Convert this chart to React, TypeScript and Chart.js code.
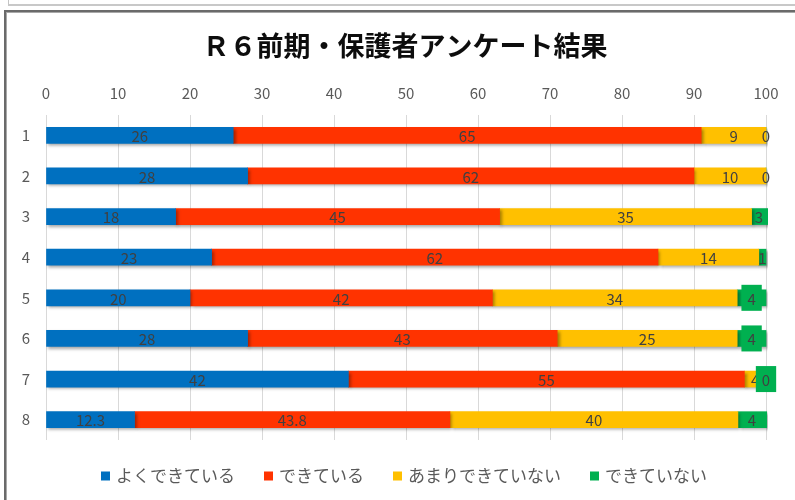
import React, { useEffect, useRef } from "react";
import { Chart, registerables } from "chart.js";

Chart.register(...registerables);

const titleText = "Ｒ６前期・保護者アンケート結果";
const categories = ["1", "2", "3", "4", "5", "6", "7", "8"];
const seriesNames = ["よくできている", "できている", "あまりできていない", "できていない"];
const veryWell = [26, 28, 18, 23, 20, 28, 42, 12.3];
const well = [65, 62, 45, 62, 42, 43, 55, 43.8];
const notMuch = [9, 10, 35, 14, 34, 25, 4, 40];
const notAtAll = [0, 0, 3, 1, 4, 4, 0, 4];
const xTickValues = [0, 10, 20, 30, 40, 50, 60, 70, 80, 90, 100];

const seriesColors = ["#0070C0", "#FF3300", "#FFC000", "#00B050"];
// rows (0-based) whose last-series label has a filled box
const boxedLabelRows = [4, 5, 6];

const FONT = "'Noto Sans CJK JP', 'Noto Sans', sans-serif";

const shadowPlugin = {
  id: "barShadow",
  beforeDatasetDraw(chart: any) {
    const ctx = chart.ctx;
    ctx.save();
    ctx.shadowColor = "rgba(0,0,0,0.35)";
    ctx.shadowBlur = 3;
    ctx.shadowOffsetX = 2;
    ctx.shadowOffsetY = 2;
  },
  afterDatasetDraw(chart: any) {
    chart.ctx.restore();
  },
};

const labelPlugin = {
  id: "segLabels",
  afterDatasetsDraw(chart: any) {
    const ctx = chart.ctx;
    const area = chart.chartArea;
    ctx.save();
    ctx.font = `15px ${FONT}`;
    ctx.textAlign = "center";
    ctx.textBaseline = "middle";
    chart.data.datasets.forEach((ds: any, di: number) => {
      const meta = chart.getDatasetMeta(di);
      meta.data.forEach((el: any, i: number) => {
        const v = ds.data[i];
        const l = Math.max(area.left, Math.min(el.x, el.base));
        const r = Math.min(area.right, Math.max(el.x, el.base));
        const cx = r > l ? (l + r) / 2 : Math.min(area.right, el.x);
        const text = String(v);
        const isLast = di === chart.data.datasets.length - 1;
        if (isLast && boxedLabelRows.includes(i)) {
          const tw = ctx.measureText(text).width;
          const w = tw + 12;
          const h = 26;
          ctx.fillStyle = seriesColors[3];
          ctx.fillRect(cx - w / 2, el.y - h / 2, w, h);
        }
        ctx.fillStyle = "#404040";
        ctx.fillText(text, cx, el.y + 1);
      });
    });
    ctx.restore();
  },
};

const decorPlugin = {
  id: "decor",
  afterDraw(chart: any) {
    const ctx = chart.ctx;
    ctx.save();
    // title
    ctx.font = `bold 27px ${FONT}`;
    ctx.fillStyle = "#0d0d0d";
    ctx.textAlign = "center";
    ctx.textBaseline = "middle";
    ctx.fillText(titleText, 405, 46);
    // legend
    ctx.font = `17px ${FONT}`;
    const box = 9;
    const gapBoxText = 6;
    const gapItems = 29;
    const widths = seriesNames.map((n) => ctx.measureText(n).width);
    const total =
      widths.reduce((a, b) => a + b, 0) +
      seriesNames.length * (box + gapBoxText) +
      (seriesNames.length - 1) * gapItems;
    let x = 404 - total / 2;
    const y = 476;
    ctx.textAlign = "left";
    seriesNames.forEach((n, i) => {
      ctx.fillStyle = seriesColors[i];
      ctx.fillRect(x, y - box / 2, box, box);
      x += box + gapBoxText;
      ctx.fillStyle = "#595959";
      ctx.fillText(n, x, y);
      x += widths[i] + gapItems;
    });
    ctx.restore();
  },
};

export default function App() {
  const canvasRef = useRef<HTMLCanvasElement | null>(null);

  useEffect(() => {
    if (!canvasRef.current) return;
    const seriesData = [veryWell, well, notMuch, notAtAll];
    const chart = new Chart(canvasRef.current, {
      type: "bar",
      data: {
        labels: categories,
        datasets: seriesNames.map((name, i) => ({
          label: name,
          data: seriesData[i],
          backgroundColor: seriesColors[i],
          borderWidth: 0,
          barThickness: 16,
          clip: { left: 0, top: 10, right: 2, bottom: 10 },
        })),
      },
      options: {
        indexAxis: "y",
        responsive: false,
        animation: false,
        devicePixelRatio: 1,
        layout: { padding: { left: 16, right: 29, top: 70, bottom: 60 } },
        plugins: {
          legend: { display: false },
          title: { display: false },
          tooltip: { enabled: false },
        },
        scales: {
          x: {
            position: "top",
            stacked: true,
            min: 0,
            max: 100,
            afterBuildTicks: (scale: any) => {
              scale.ticks = xTickValues.map((v) => ({ value: v }));
            },
            afterFit: (scale: any) => {
              scale.height = 45;
            },
            ticks: {
              color: "#595959",
              font: { family: FONT, size: 15 },
              padding: 13,
              maxRotation: 0,
            },
            grid: { color: "#d9d9d9", drawTicks: false, lineWidth: 1 },
            border: { display: false },
          },
          y: {
            stacked: true,
            afterFit: (scale: any) => {
              scale.width = 30;
            },
            ticks: {
              color: "#595959",
              font: { family: FONT, size: 15 },
              padding: 16,
            },
            grid: { display: false, drawTicks: false },
            border: { display: false },
          },
        },
      },
      plugins: [shadowPlugin, labelPlugin, decorPlugin],
    } as any);
    return () => chart.destroy();
  }, []);

  return (
    <div style={{ position: "fixed", left: 0, top: 0, width: 795, height: 500, background: "#fff", overflow: "hidden" }}>
      <canvas ref={canvasRef} width={795} height={500} style={{ position: "absolute", left: 0, top: 0, width: 795, height: 500 }} />
      <div
        style={{
          position: "absolute",
          left: 8,
          top: -10,
          width: 800,
          height: 14,
          borderLeft: "1px solid #c4c4c4",
          borderBottom: "2px solid #c8c8c8",
          pointerEvents: "none",
        }}
      />
      <div
        style={{
          position: "absolute",
          left: 4,
          top: 10,
          width: 800,
          height: 500,
          borderTop: "2px solid #6a6a6a",
          borderLeft: "2px solid #6a6a6a",
          pointerEvents: "none",
        }}
      >
        <div
          style={{
            position: "absolute",
            left: 0,
            top: 0,
            width: 800,
            height: 500,
            borderTop: "1px solid #a8a8a8",
            borderLeft: "1px solid #a8a8a8",
          }}
        />
      </div>
    </div>
  );
}
